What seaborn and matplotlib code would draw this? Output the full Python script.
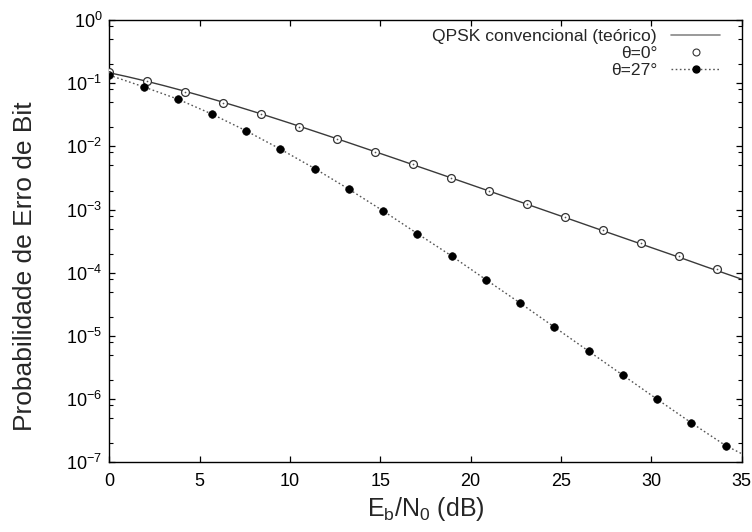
import numpy as np
import pandas as pd
import matplotlib
matplotlib.use("Agg")
import matplotlib.pyplot as plt
from matplotlib.lines import Line2D
from matplotlib.ticker import LogLocator, NullFormatter, FixedLocator
import seaborn as sns

# ---- data ----
theory_x = list(range(0, 36))
theory_y = [0.1464, 0.1267, 0.1085, 0.0919, 0.0771, 0.0642, 0.0530, 0.0435, 0.0355,
            0.0288, 0.0233, 0.01875, 0.01507, 0.01208, 0.00966, 0.00772, 0.00617,
            0.00491, 0.003915, 0.003118, 0.002481, 0.001974, 0.001570, 0.001248,
            0.000992, 0.000789, 0.000627, 0.000498, 0.000396, 0.000315, 0.000250,
            0.000199, 0.000158, 0.000125, 0.0000995, 0.0000791]

theta0_x = [0.0, 2.1, 4.21, 6.31, 8.41, 10.51, 12.62, 14.72, 16.82, 18.93, 21.03,
            23.13, 25.24, 27.34, 29.44, 31.55, 33.65]
theta0_y = [0.152, 0.108, 0.0731, 0.0489, 0.0324, 0.0204, 0.01286, 0.00818, 0.00517,
            0.00317, 0.00200, 0.00122, 0.000755, 0.000470, 0.000292, 0.000182, 0.000115]

theta27_x = [0.0, 1.895, 3.79, 5.685, 7.58, 9.475, 11.37, 13.265, 15.16, 17.055, 18.95,
             20.845, 22.74, 24.635, 26.53, 28.425, 30.32, 32.215, 34.11]
theta27_y = [0.134, 0.0877, 0.0560, 0.0324, 0.0176, 0.00903, 0.00446, 0.00210, 0.000950,
             0.000416, 0.000184, 7.78e-5, 3.31e-5, 1.38e-5, 5.74e-6, 2.39e-6, 9.96e-7,
             4.21e-7, 1.84e-7]
theta27_line_x = theta27_x + [35.0]
theta27_line_y = theta27_y + [1.37e-7]

labels = ["QPSK convencional (teórico)", "θ=0°", "θ=27°"]

# ---- style ----
sns.set_style("ticks")
plt.rcParams["font.family"] = ["Liberation Sans", "DejaVu Sans"]
plt.rcParams["mathtext.default"] = "regular"

fig = plt.figure(figsize=(7.52, 5.32), dpi=100)
ax = fig.add_axes([0.1453, 0.131, 0.8410, 0.8314])

line_col = "#3a3a3a"
df_t = pd.DataFrame({"x": theory_x, "y": theory_y})
sns.lineplot(data=df_t, x="x", y="y", ax=ax, color=line_col, lw=1.0)

df_27l = pd.DataFrame({"x": theta27_line_x, "y": theta27_line_y})
sns.lineplot(data=df_27l, x="x", y="y", ax=ax, color="#555555", lw=1.0,
             linestyle=(0, (1.2, 1.8)))

df_0 = pd.DataFrame({"x": theta0_x, "y": theta0_y})
sns.scatterplot(data=df_0, x="x", y="y", ax=ax, marker="o", s=32,
                facecolor="white", edgecolor="#333333", linewidth=0.9, zorder=3)
sns.scatterplot(data=df_0, x="x", y="y", ax=ax, marker="o", s=1.5,
                color="#555555", linewidth=0, zorder=4)

df_27 = pd.DataFrame({"x": theta27_x, "y": theta27_y})
sns.scatterplot(data=df_27, x="x", y="y", ax=ax, marker="o", s=30,
                color="black", edgecolor="black", linewidth=0.5, zorder=3)

ax.set_yscale("log")
ax.set_xlim(0, 35)
ax.set_ylim(1e-7, 1)
ax.xaxis.set_major_locator(FixedLocator([0, 5, 10, 15, 20, 25, 30, 35]))
ax.yaxis.set_major_locator(LogLocator(base=10, numticks=10))
ax.yaxis.set_minor_locator(LogLocator(base=10, subs=(2.0, 5.0, 8.0), numticks=20))
ax.yaxis.set_minor_formatter(NullFormatter())

for s in ax.spines.values():
    s.set_linewidth(1.0)
    s.set_color("black")
ax.tick_params(which="both", direction="in", top=True, right=True, colors="black",
               labelsize=13)
ax.tick_params(which="major", length=4, width=0.9)
ax.tick_params(which="minor", length=3, width=0.8)
ax.tick_params(axis="x", pad=8)
ax.tick_params(axis="y", pad=5)

ax.set_xlabel("E$_b$/N$_0$ (dB)", fontsize=18, labelpad=3)
ax.set_ylabel("Probabilidade de Erro de Bit", fontsize=19)
ax.yaxis.set_label_coords(-0.115, 0.443)

handles = [
    Line2D([], [], color="#888888", lw=1.2),
    Line2D([], [], color="#333333", marker="o", markersize=5, markerfacecolor="white",
           markeredgewidth=0.8, linestyle="none"),
    Line2D([], [], color="#555555", lw=1.0, linestyle=(0, (1.2, 1.8)), marker="o",
           markersize=5, markerfacecolor="black", markeredgecolor="black"),
]
leg = ax.legend(handles, labels, loc="upper right", frameon=False, markerfirst=False,
                fontsize=12.6, handlelength=2.8, handletextpad=0.8, labelspacing=0.1,
                borderaxespad=0.0, bbox_to_anchor=(0.977, 0.995))

fig.savefig("out.png", dpi=100)
